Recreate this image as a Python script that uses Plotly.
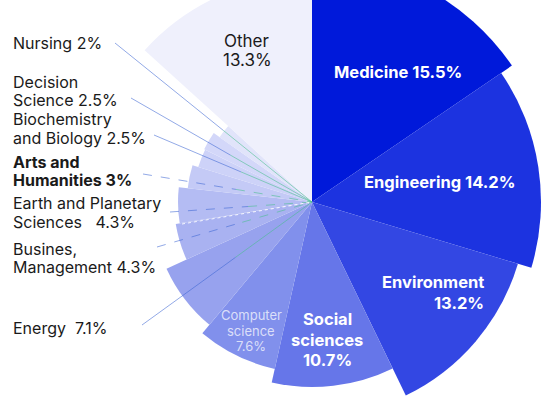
import plotly.graph_objects as go

# ---- data ----
categories = ["Medicine", "Engineering", "Environment", "Social sciences",
              "Computer science", "Energy", "Busines, Management",
              "Earth and Planetary Sciences", "Arts and Humanities",
              "Biochemistry and Biology", "Decision Science", "Nursing", "Other"]
shares = [15.5, 14.2, 13.2, 10.7, 7.6, 7.1, 4.3, 4.3, 3.0, 2.5, 2.5, 2.0, 13.3]
magnitude = [242, 229, 215, 185, 171, 160, 138, 134, 125, 119, 120, 113, 226]
colors = ["#0019DA", "#1C33E0", "#3347E3", "#6676E9", "#8190EC", "#97A2EE",
          "#A9B2F1", "#B4BCF3", "#C4CAF6", "#CDD2F8", "#D3D7F9", "#E1E4FA", "#EFF0FC"]

VIEW_W, VIEW_H = 542, 406          # visible window
TOP = 45                           # figure is shifted up so the chart is cut at the top edge
W, H = 560, 500                    # full figure size
FONT = "Inter, 'Open Sans', sans-serif"

# angular positions derived from shares
total = sum(shares)
widths = [s / total * 360 for s in shares]
thetas = []
acc = 0
for w in widths:
    thetas.append(acc + w / 2)
    acc += w

fig = go.Figure()
fig.add_trace(go.Barpolar(
    r=magnitude, theta=thetas, width=widths,
    marker=dict(color=colors, line=dict(width=0)),
    text=categories, hoverinfo="text", showlegend=False,
))

cx, cy, R = 312, 202, 245          # centre in visible-window pixels, polar radius


def px(x, y):
    """visible-window pixel -> paper coords of the (larger) figure"""
    return x / W, 1 - (y + TOP) / H


# ---- leader lines (label end -> centre) ----
leaders = [
    ((115, 43), "solid"),
    ((131, 98), "solid"),
    ((154, 135), "solid"),
    ((143, 174), "dash"),
    ((170, 212), "dash"),
    ((157, 247), "dash"),
    ((142, 325), "solid"),
]
shapes = []
for (lx, ly), dash in leaders:
    mx, my = lx + (cx - lx) * 0.55, ly + (cy - ly) * 0.55
    x0, y0 = px(lx, ly)
    x1, y1 = px(mx, my)
    x2, y2 = px(cx, cy)
    shapes.append(dict(type="line", xref="paper", yref="paper", x0=x0, y0=y0, x1=x1, y1=y1,
                       line=dict(color="rgba(60,100,210,0.7)", width=0.8, dash=dash)))
    shapes.append(dict(type="line", xref="paper", yref="paper", x0=x1, y0=y1, x1=x2, y1=y2,
                       line=dict(color="rgba(70,190,140,0.7)", width=0.8, dash=dash)))
# white dotted divider
x0, y0 = px(182, 224)
x2, y2 = px(cx, cy)
shapes.append(dict(type="line", xref="paper", yref="paper", x0=x0, y0=y0, x1=x2, y1=y2,
                   line=dict(color="rgba(255,255,255,0.9)", width=1, dash="dot")))

annotations = []


def add_lines(lines, x, y_first, spacing, xanchor="left", size=16, color="#1a1a1a",
              bold=False, align="left"):
    for i, t in enumerate(lines):
        ax, ay = px(x, y_first + i * spacing)
        txt = f"<b>{t}</b>" if bold else t
        annotations.append(dict(text=txt, x=ax, y=ay, xref="paper", yref="paper",
                                xanchor=xanchor, yanchor="middle", showarrow=False,
                                align=align, borderpad=0,
                                font=dict(family=FONT, size=size, color=color)))


# left labels
add_lines(["Nursing 2%"], 12, 43, 18)
add_lines(["Decision", "Science 2.5%"], 12, 82, 18)
add_lines(["Biochemistry", "and Biology 2.5%"], 12, 119.5, 18)
add_lines(["Arts and", "Humanities 3%"], 12, 162, 18, bold=True)
add_lines(["Earth and Planetary", "Sciences   4.3%"], 12, 203, 19)
add_lines(["Busines,", "Management 4.3%"], 12, 249, 18)
add_lines(["Energy  7.1%"], 12, 328, 18)

# in-slice labels
add_lines(["Medicine 15.5%"], 398, 72, 20, xanchor="center", size=16.5, color="white", bold=True)
add_lines(["Engineering 14.2%"], 439, 182, 20, xanchor="center", size=16.5, color="white", bold=True)
add_lines(["Environment", "13.2%"], 485, 282, 21, xanchor="right", size=16.5, color="white", bold=True)
add_lines(["Social", "sciences", "10.7%"], 327, 319, 20.5, xanchor="center", size=16.5,
          color="white", bold=True)
add_lines(["Computer", "science", "7.6%"], 251, 315, 15.5, xanchor="center", size=13,
          color="rgba(255,255,255,0.72)")
add_lines(["Other", "13.3%"], 247, 41, 19, xanchor="center", size=17, color="#1a1a1a")

dom_x = [(cx - R) / W, (cx + R) / W]
dom_y = [1 - (cy + TOP + R) / H, 1 - (cy + TOP - R) / H]

fig.update_layout(
    width=W, height=H,
    margin=dict(l=0, r=0, t=0, b=0),
    paper_bgcolor="white", plot_bgcolor="white",
    polar=dict(
        domain=dict(x=dom_x, y=dom_y),
        bgcolor="rgba(0,0,0,0)",
        radialaxis=dict(range=[0, R], visible=False, showgrid=False),
        angularaxis=dict(visible=False, rotation=90, direction="clockwise",
                         showgrid=False, thetaunit="degrees"),
    ),
    shapes=shapes,
    annotations=annotations,
    font=dict(family=FONT),
)

post = (
    "document.documentElement.style.overflow='hidden';"
    "document.body.style.margin='0';"
    "document.body.style.overflow='hidden';"
    "var gd=document.getElementById('{plot_id}');"
    f"gd.style.marginTop='-{TOP}px';"
)
fig.write_html("out.html", post_script=post, config={"displayModeBar": False})
